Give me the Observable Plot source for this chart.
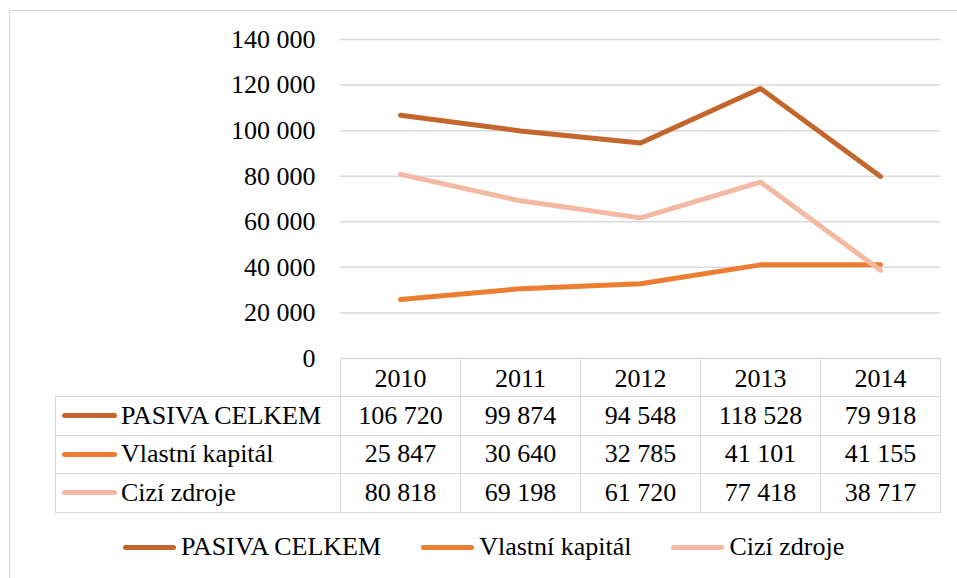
<!DOCTYPE html>
<html>
<head>
<meta charset="utf-8">
<script src="https://cdn.jsdelivr.net/npm/d3@7"></script>
<script src="https://cdn.jsdelivr.net/npm/@observablehq/plot@0.6"></script>
<style>
  .serif { font-family: 'Liberation Serif'; }
  html, body { margin: 0; padding: 0; background: #fff; }
  body { width: 957px; height: 578px; overflow: hidden; position: relative; color: #000; }
  #frame { position: absolute; left: 9px; top: 10px; width: 980px; height: 600px;
           border: 1.5px solid #d9d9d9; box-sizing: border-box; }
  #chart { position: absolute; left: 0; top: 0; }
  table { position: absolute; left: 55px; top: 358px; border-collapse: collapse;
          font-size: 26px; table-layout: fixed; }
  td { border: 1.5px solid #d9d9d9; padding: 0; text-align: center; height: 37px;
       line-height: 26px; white-space: nowrap; }
  td.lab { text-align: left; padding-left: 6px; }
  td.blank { border-top: none; border-left: none; }
  .key { display: inline-block; width: 55px; height: 5px; border-radius: 3px;
         vertical-align: middle; margin-right: 4px; position: relative; top: -2px; }
  #legend { position: absolute; left: 123px; top: 531px; display: flex; gap: 40px;
            font-size: 26px; line-height: 32px; white-space: nowrap; }
  #legend .item { display: flex; align-items: center; }
  #legend .key { width: 53px; margin-right: 5px; top: 0; }
</style>
</head>
<body class="serif">
<div id="frame"></div>
<div id="chart"></div>
<div id="tablewrap"></div>
<div id="legend"></div>
<script>
const years = ["2010", "2011", "2012", "2013", "2014"];
const seriesNames = ["PASIVA CELKEM", "Vlastní kapitál", "Cizí zdroje"];
const pasivaCelkem = [106720, 99874, 94548, 118528, 79918];
const vlastniKapital = [25847, 30640, 32785, 41101, 41155];
const ciziZdroje = [80818, 69198, 61720, 77418, 38717];
const yTicks = [0, 20000, 40000, 60000, 80000, 100000, 120000, 140000];
const colors = ["#C4652B", "#ED7D31", "#F4B9A2"];

const seriesValues = [pasivaCelkem, vlastniKapital, ciziZdroje];
const data = [];
seriesNames.forEach((s, i) => years.forEach((y, j) => data.push({series: s, year: y, value: seriesValues[i][j]})));

const fmt = v => d3.format(",d")(v).replace(/,/g, " ");

const plot = Plot.plot({
  width: 957,
  height: 400,
  marginLeft: 340,
  marginRight: 17,
  marginTop: 39,
  marginBottom: 42,
  style: {background: "transparent", fontFamily: "Liberation Serif", fontSize: "26px", color: "#000"},
  x: {type: "point", domain: years, padding: 0.5, label: null},
  y: {domain: [0, 140000], label: null},
  color: {domain: seriesNames, range: colors},
  marks: [
    Plot.ruleY(yTicks, {stroke: "#d9d9d9", strokeWidth: 1.5}),
    Plot.axisY({ticks: yTicks, tickSize: 0, tickPadding: 25, tickFormat: fmt, fontSize: 26, fontFamily: "Liberation Serif", label: null}),
    Plot.axisX({tickSize: 0, tickPadding: 10, fontSize: 26, fontFamily: "Liberation Serif", label: null}),
    Plot.line(data, {x: "year", y: "value", z: "series", stroke: "series", strokeWidth: 5, strokeLinecap: "round"})
  ]
});
document.getElementById("chart").appendChild(plot);

// data table
const table = document.createElement("table");
table.className = "serif";
const cg = document.createElement("colgroup");
[285, 120, 120, 120, 120, 120].forEach(w => { const c = document.createElement("col"); c.style.width = w + "px"; cg.appendChild(c); });
table.appendChild(cg);
const hr = document.createElement("tr");
const hb = document.createElement("td"); hb.className = "blank"; hr.appendChild(hb);
years.forEach(() => { const td = document.createElement("td"); hr.appendChild(td); });
table.appendChild(hr);
seriesNames.forEach((s, i) => {
  const tr = document.createElement("tr");
  const lab = document.createElement("td"); lab.className = "lab serif";
  const k = document.createElement("span"); k.className = "key"; k.style.background = colors[i];
  lab.appendChild(k); lab.appendChild(document.createTextNode(s));
  tr.appendChild(lab);
  seriesValues[i].forEach(v => { const td = document.createElement("td"); td.className = "serif"; td.textContent = fmt(v); tr.appendChild(td); });
  tr.style.height = "38.5px";
  table.appendChild(tr);
});
document.getElementById("tablewrap").appendChild(table);

// legend
const lg = document.getElementById("legend");
lg.className = "serif";
seriesNames.forEach((s, i) => {
  const it = document.createElement("div"); it.className = "item serif";
  const k = document.createElement("span"); k.className = "key"; k.style.background = colors[i];
  it.appendChild(k); it.appendChild(document.createTextNode(s));
  lg.appendChild(it);
});
</script>
</body>
</html>
